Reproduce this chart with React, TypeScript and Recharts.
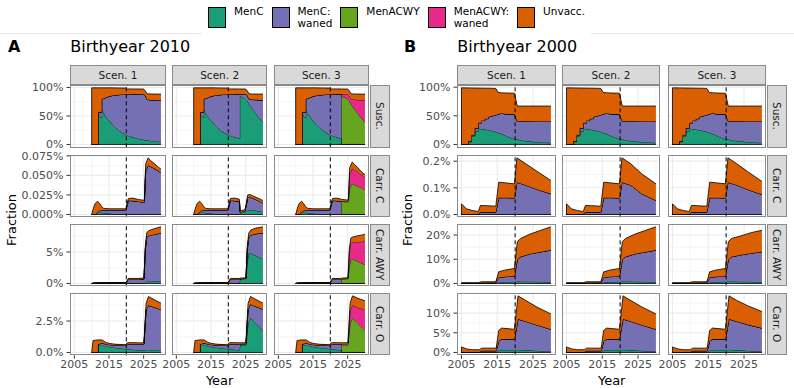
import React from 'react';
import { AreaChart, Area, XAxis, YAxis, CartesianGrid, ReferenceLine } from 'recharts';

const SCENARIOS = ['Scen. 1', 'Scen. 2', 'Scen. 3'];
const OUTCOMES = ['Susc.', 'Carr. C', 'Carr. AWY', 'Carr. O'];
const SERIES_KEYS = ['menc', 'mencWaned', 'acwy', 'acwyWaned', 'unvacc'] as const;
const SERIES_LABELS = ['MenC', 'MenC:\nwaned', 'MenACWY', 'MenACWY:\nwaned', 'Unvacc.'];
const COLORS: Record<string, string> = {
  menc: '#1B9E77',
  mencWaned: '#7570B3',
  acwy: '#66A61E',
  acwyWaned: '#E7298A',
  unvacc: '#D95F02',
};

const X_TICKS = [2005, 2015, 2025];
const X_MINOR = [2010, 2020, 2030];
const SWITCH_YEAR = 2020;

type Series = {
  menc?: number[];
  mencWaned?: number[];
  acwy?: number[];
  acwyWaned?: number[];
  unvacc?: number[];
};

// ---------- Birthyear 2010 (values in %) ----------
const aSuscYears = [2010, 2010, 2011.9, 2011.9, 2012.4, 2012.9, 2012.9, 2014, 2015, 2016, 2017, 2018, 2019, 2020, 2020.3, 2021, 2022, 2023.3, 2023.3, 2024, 2025, 2025.5, 2026, 2027, 2028, 2029, 2030];
const aSusc1: Series = {
  menc: [0, 0, 0, 57, 49, 47, 61, 50, 42, 35, 29, 24, 20, 17, 16.3, 14.5, 12.5, 10.7, 10.7, 9.5, 8.3, 7.8, 7.3, 6.5, 5.8, 5.2, 4.7],
  mencWaned: [0, 0, 0, 0, 8, 10, 19, 32, 42.5, 51, 58, 63.5, 68, 71, 71.9, 73.8, 76, 78, 78, 79.3, 80.5, 78.2, 71.7, 71.8, 72.2, 72.6, 72.9],
  unvacc: [0, 99.5, 99.5, 42.5, 42.5, 42.5, 19.5, 17.5, 15, 13.5, 12.4, 11.8, 11.2, 11.2, 9.4, 9.3, 9.1, 8.8, 8.8, 8.7, 8.6, 8, 10, 10.4, 10.6, 10.7, 10.9],
};
const aSusc2: Series = {
  menc: [0, 0, 0, 57, 49, 47, 61, 50, 42, 35, 29, 24, 20, 17, 16.3, 14.5, 12.5, 10.7, 85, 83, 80, 77, 71, 62, 54, 46, 39],
  mencWaned: [0, 0, 0, 0, 8, 10, 19, 32, 42.5, 51, 58, 63.5, 68, 71, 71.9, 73.8, 76, 78, 3.7, 5.8, 8.8, 9, 8.5, 17, 24.5, 32, 38.6],
  unvacc: [0, 99.5, 99.5, 42.5, 42.5, 42.5, 19.5, 17.5, 15, 13.5, 12.4, 11.8, 11.2, 11.2, 9.4, 9.3, 9.1, 8.8, 8.8, 8.7, 8.6, 8, 9.5, 9.7, 10.1, 10.5, 10.9],
};
const aSusc3: Series = {
  menc: [0, 0, 0, 57, 49, 47, 61, 50, 42, 35, 29, 24, 20, 17, 16.3, 14.5, 12.5, 10.7, 0, 0, 0, 0, 0, 0, 0, 0, 0],
  mencWaned: [0, 0, 0, 0, 8, 10, 19, 32, 42.5, 51, 58, 63.5, 68, 71, 71.9, 73.8, 76, 78, 0, 0, 0, 0, 0, 0, 0, 0, 0],
  acwy: [0, 0, 0, 0, 0, 0, 0, 0, 0, 0, 0, 0, 0, 0, 0, 0, 0, 0, 85, 83, 80, 77, 71, 62, 54, 46, 39],
  acwyWaned: [0, 0, 0, 0, 0, 0, 0, 0, 0, 0, 0, 0, 0, 0, 0, 0, 0, 0, 3.7, 5.8, 8.8, 9, 8.5, 17, 24.5, 32, 38.6],
  unvacc: [0, 99.5, 99.5, 42.5, 42.5, 42.5, 19.5, 17.5, 15, 13.5, 12.4, 11.8, 11.2, 11.2, 9.4, 9.3, 9.1, 8.8, 8.8, 8.7, 8.6, 8, 9.5, 9.7, 10.1, 10.5, 10.9],
};

const aCarrCYears = [2010, 2010.5, 2011, 2011.7, 2012.3, 2012.9, 2013.5, 2015, 2017, 2019.9, 2020.6, 2021.8, 2023.2, 2023.4, 2024.8, 2025.2, 2025.6, 2026.3, 2027, 2028, 2029, 2030];
const aCarrC1: Series = {
  menc: [0, 0, 0, 0.002, 0.003, 0.0025, 0.002, 0.0012, 0.0006, 0.0003, 0.0003, 0.0003, 0.0003, 0.0003, 0.0003, 0.0004, 0.0007, 0.0008, 0.0008, 0.0007, 0.0007, 0.0006],
  mencWaned: [0, 0, 0, 0.001, 0.002, 0.003, 0.0038, 0.0046, 0.0052, 0.0055, 0.0177, 0.0172, 0.0165, 0.0164, 0.0155, 0.0153, 0.0553, 0.0622, 0.0607, 0.0583, 0.0558, 0.0529],
  unvacc: [0, 0.008, 0.014, 0.014, 0.009, 0.0045, 0.002, 0.0015, 0.0015, 0.0015, 0.0025, 0.0035, 0.0027, 0.0026, 0.0025, 0.0023, 0.009, 0.0095, 0.0075, 0.0065, 0.005, 0.0045],
};
const aCarrC2: Series = {
  menc: [0, 0, 0, 0.002, 0.003, 0.0025, 0.002, 0.0012, 0.0006, 0.0003, 0.0003, 0.0003, 0.0003, 0.002, 0.003, 0.004, 0.0055, 0.0058, 0.0055, 0.005, 0.004, 0.0035],
  mencWaned: [0, 0, 0, 0.001, 0.002, 0.003, 0.0038, 0.0046, 0.0052, 0.0055, 0.0177, 0.0172, 0.0165, 0.001, 0.0015, 0.008, 0.016, 0.0164, 0.0155, 0.014, 0.013, 0.0113],
  unvacc: [0, 0.008, 0.014, 0.014, 0.009, 0.0045, 0.002, 0.0015, 0.0015, 0.0015, 0.0025, 0.0035, 0.0027, 0.0015, 0.0015, 0.0025, 0.0035, 0.0033, 0.003, 0.003, 0.003, 0.003],
};
const aCarrC3: Series = {
  menc: [0, 0, 0, 0.002, 0.003, 0.0025, 0.002, 0.0012, 0.0006, 0.0003, 0.0003, 0.0003, 0.0003, 0, 0, 0, 0, 0, 0, 0, 0, 0],
  mencWaned: [0, 0, 0, 0.001, 0.002, 0.003, 0.0038, 0.0046, 0.0052, 0.0055, 0.0177, 0.0172, 0.0165, 0, 0, 0, 0, 0, 0, 0, 0, 0],
  acwy: [0, 0, 0, 0, 0, 0, 0, 0, 0, 0, 0, 0, 0, 0.0165, 0.016, 0.0165, 0.034, 0.0394, 0.038, 0.036, 0.034, 0.0317],
  acwyWaned: [0, 0, 0, 0, 0, 0, 0, 0, 0, 0, 0, 0, 0, 0.0003, 0.0005, 0.001, 0.018, 0.0193, 0.019, 0.0185, 0.017, 0.0163],
  unvacc: [0, 0.008, 0.014, 0.014, 0.009, 0.0045, 0.002, 0.0015, 0.0015, 0.0015, 0.0025, 0.0035, 0.0027, 0.0025, 0.002, 0.0015, 0.008, 0.0083, 0.007, 0.005, 0.0035, 0.003],
};

const aCarrAwyYears = [2010, 2010.3, 2012, 2015, 2019.9, 2020.6, 2023.2, 2023.4, 2025.1, 2025.5, 2025.9, 2026.5, 2028, 2030];
const aCarrAwy1: Series = {
  menc: [0, 0, 0.03, 0.02, 0.01, 0.02, 0.03, 0.03, 0.05, 0.2, 0.3, 0.33, 0.35, 0.35],
  mencWaned: [0, 0, 0.05, 0.08, 0.09, 0.63, 0.62, 0.62, 0.65, 5.3, 7.1, 7.27, 7.45, 7.65],
  unvacc: [0, 0.1, 0.07, 0.05, 0.05, 0.15, 0.15, 0.15, 0.15, 0.5, 0.7, 0.8, 0.9, 1.0],
};
const aCarrAwy2: Series = {
  menc: [0, 0, 0.03, 0.02, 0.01, 0.02, 0.03, 0.7, 0.75, 3.5, 4.9, 4.8, 4.4, 3.9],
  mencWaned: [0, 0, 0.05, 0.08, 0.09, 0.63, 0.62, 0.05, 0.05, 2.0, 2.4, 2.9, 3.5, 4.1],
  unvacc: [0, 0.1, 0.07, 0.05, 0.05, 0.15, 0.15, 0.1, 0.1, 0.5, 0.7, 0.8, 0.9, 1.0],
};
const aCarrAwy3: Series = {
  menc: [0, 0, 0.03, 0.02, 0.01, 0.02, 0.03, 0, 0, 0, 0, 0, 0, 0],
  mencWaned: [0, 0, 0.05, 0.08, 0.09, 0.63, 0.62, 0, 0, 0, 0, 0, 0, 0],
  acwy: [0, 0, 0, 0, 0, 0, 0, 0.7, 0.75, 2.8, 3.8, 3.9, 3.5, 3.0],
  acwyWaned: [0, 0, 0, 0, 0, 0, 0, 0.05, 0.05, 2.2, 2.6, 2.7, 3.1, 3.7],
  unvacc: [0, 0.1, 0.07, 0.05, 0.05, 0.15, 0.15, 0.1, 0.1, 0.5, 0.8, 0.8, 1.0, 1.1],
};

const aCarrOYears = [2010, 2010.4, 2011.8, 2011.8, 2013, 2014, 2015, 2017, 2019.8, 2020.3, 2022, 2023.2, 2023.4, 2025.1, 2025.7, 2026.4, 2028, 2030];
const aCarrO1: Series = {
  menc: [0, 0, 0, 0.65, 0.6, 0.52, 0.46, 0.38, 0.28, 0.27, 0.22, 0.2, 0.2, 0.17, 0.22, 0.22, 0.2, 0.18],
  mencWaned: [0, 0, 0, 0, 0.15, 0.16, 0.16, 0.2, 0.27, 0.41, 0.46, 0.48, 0.48, 0.51, 3.18, 3.53, 3.4, 3.24],
  unvacc: [0, 0.95, 1.0, 0.35, 0.25, 0.14, 0.1, 0.07, 0.07, 0.1, 0.1, 0.09, 0.09, 0.08, 0.5, 0.7, 0.6, 0.5],
};
const aCarrO2: Series = {
  menc: [0, 0, 0, 0.65, 0.6, 0.52, 0.46, 0.38, 0.28, 0.27, 0.22, 0.2, 0.6, 0.6, 2.3, 2.77, 2.3, 1.7],
  mencWaned: [0, 0, 0, 0, 0.15, 0.16, 0.16, 0.2, 0.27, 0.41, 0.46, 0.48, 0.08, 0.09, 1.1, 1.07, 1.35, 1.74],
  unvacc: [0, 0.95, 1.0, 0.35, 0.25, 0.14, 0.1, 0.07, 0.07, 0.1, 0.1, 0.09, 0.09, 0.08, 0.5, 0.61, 0.55, 0.48],
};
const aCarrO3: Series = {
  menc: [0, 0, 0, 0.65, 0.6, 0.52, 0.46, 0.38, 0.28, 0.27, 0.22, 0.2, 0, 0, 0, 0, 0, 0],
  mencWaned: [0, 0, 0, 0, 0.15, 0.16, 0.16, 0.2, 0.27, 0.41, 0.46, 0.48, 0, 0, 0, 0, 0, 0],
  acwy: [0, 0, 0, 0, 0, 0, 0, 0, 0, 0, 0, 0, 0.6, 0.6, 2.3, 2.77, 2.3, 1.77],
  acwyWaned: [0, 0, 0, 0, 0, 0, 0, 0, 0, 0, 0, 0, 0.08, 0.09, 1.0, 0.98, 1.25, 1.63],
  unvacc: [0, 0.95, 1.0, 0.35, 0.25, 0.14, 0.1, 0.07, 0.07, 0.1, 0.1, 0.09, 0.09, 0.08, 0.6, 0.75, 0.75, 0.7],
};

// ---------- Birthyear 2000 (values in %) ----------
const bSuscYears = [2005, 2005, 2006.9, 2006.9, 2007.8, 2007.8, 2008.7, 2008.7, 2009.7, 2009.7, 2010.6, 2010.6, 2011.5, 2011.5, 2012.5, 2012.5, 2013.4, 2014.3, 2014.6, 2015.3, 2016.2, 2017, 2018, 2019.8, 2020.6, 2022, 2024, 2026, 2028, 2030];
const bSusc: Series = {
  menc: [0, 0, 0, 5, 4.5, 15, 14, 24, 23, 28, 27, 27.5, 26, 26.5, 25, 25.5, 24, 23, 22, 20.5, 18.5, 16.5, 13.5, 9.5, 9, 7, 5.5, 4.3, 3.5, 3],
  mencWaned: [0, 0, 0, 1, 1, 2, 2.5, 5, 5.5, 10, 10.5, 14.5, 15.5, 18.5, 20, 22.5, 25.5, 28, 29.5, 32.5, 36, 37, 39.5, 43.5, 31.6, 33.5, 34.8, 35.9, 36.6, 37],
  unvacc: [0, 98.8, 98.7, 92.7, 93.1, 81.6, 82, 69.5, 69.9, 60.4, 60.8, 56.3, 56.7, 53.2, 53.1, 50.1, 48.5, 46.8, 46.1, 37.6, 35.7, 36.5, 36.7, 36.4, 26.4, 26.5, 26.7, 26.8, 26.9, 27],
};

const bCarrCYears = [2005, 2005, 2006.4, 2008, 2009.7, 2010.3, 2012, 2014.6, 2015.4, 2017, 2019.8, 2020.5, 2023, 2026, 2030];
const bCarrC1: Series = {
  menc: [0, 0, 0, 0, 0, 0.001, 0.001, 0.001, 0.002, 0.002, 0.002, 0.002, 0.002, 0.002, 0.002],
  mencWaned: [0, 0.001, 0.001, 0.001, 0.002, 0.008, 0.008, 0.008, 0.0605, 0.061, 0.06, 0.119, 0.108, 0.093, 0.0755],
  unvacc: [0, 0.039, 0.02, 0.014, 0.009, 0.025, 0.024, 0.022, 0.0585, 0.056, 0.053, 0.0915, 0.08, 0.068, 0.05],
};
const bCarrC2: Series = {
  menc: [0, 0, 0, 0, 0, 0.001, 0.001, 0.001, 0.002, 0.002, 0.002, 0.002, 0.002, 0.002, 0.002],
  mencWaned: [0, 0.001, 0.001, 0.001, 0.002, 0.008, 0.008, 0.008, 0.0605, 0.061, 0.06, 0.119, 0.108, 0.076, 0.0505],
  unvacc: [0, 0.039, 0.02, 0.014, 0.009, 0.025, 0.024, 0.022, 0.0585, 0.056, 0.053, 0.0915, 0.08, 0.075, 0.0625],
};
const bCarrC3: Series = {
  menc: [0, 0, 0, 0, 0, 0.001, 0.001, 0.001, 0.002, 0.002, 0.002, 0.002, 0.002, 0.002, 0.002],
  mencWaned: [0, 0.001, 0.001, 0.001, 0.002, 0.008, 0.008, 0.008, 0.0605, 0.061, 0.06, 0.119, 0.108, 0.092, 0.073],
  unvacc: [0, 0.039, 0.02, 0.014, 0.009, 0.025, 0.024, 0.022, 0.0585, 0.056, 0.053, 0.0915, 0.08, 0.067, 0.049],
};

const bCarrAwyYears = [2005, 2005, 2009.7, 2010.5, 2014.6, 2015.4, 2017, 2019.8, 2020.6, 2021.5, 2024, 2027, 2030];
const bCarrAwy1: Series = {
  menc: [0, 0, 0, 0.05, 0.05, 0.5, 0.6, 0.7, 0.8, 0.8, 0.75, 0.7, 0.6],
  mencWaned: [0, 0.05, 0.05, 0.25, 0.3, 2.0, 2.2, 2.3, 9.1, 10.2, 11.45, 12.3, 13.2],
  unvacc: [0, 0.25, 0.25, 0.4, 0.35, 2.3, 2.7, 3.2, 7.3, 7.6, 8.1, 8.9, 9.6],
};
const bCarrAwy3: Series = {
  menc: [0, 0, 0, 0.05, 0.05, 0.5, 0.6, 0.7, 0.8, 0.8, 0.75, 0.7, 0.6],
  mencWaned: [0, 0.05, 0.05, 0.25, 0.3, 2.0, 2.2, 2.3, 9.1, 10.2, 11.05, 11.8, 12.5],
  unvacc: [0, 0.25, 0.25, 0.4, 0.35, 2.3, 2.7, 3.2, 7.3, 7.6, 7.8, 8.5, 8.9],
};

const bCarrOYears = [2005, 2005, 2006.5, 2008, 2010, 2010.6, 2014.7, 2015.4, 2016.2, 2019.8, 2020.8, 2023, 2026, 2030];
const bCarrO1: Series = {
  menc: [0, 0, 0, 0, 0, 0.05, 0.05, 0.5, 0.65, 0.65, 0.7, 0.6, 0.45, 0.25],
  mencWaned: [0, 0.05, 0.05, 0.05, 0.1, 0.37, 0.37, 2.4, 2.75, 2.75, 7.8, 7.3, 6.55, 5.65],
  unvacc: [0, 1.35, 0.85, 0.65, 0.6, 0.68, 0.68, 2.7, 2.8, 2.5, 5.9, 5.3, 4.6, 3.9],
};
const bCarrO3: Series = {
  menc: [0, 0, 0, 0, 0, 0.05, 0.05, 0.5, 0.65, 0.65, 0.7, 0.6, 0.45, 0.25],
  mencWaned: [0, 0.05, 0.05, 0.05, 0.1, 0.37, 0.37, 2.4, 2.75, 2.75, 7.8, 7.3, 6.65, 5.95],
  unvacc: [0, 1.35, 0.85, 0.65, 0.6, 0.68, 0.68, 2.7, 2.8, 2.5, 5.9, 5.3, 4.8, 4.2],
};

// ---------- facet rows: one per outcome, free y scale ----------
interface FacetRow {
  label: string;
  years: number[];
  scen: Series[];
  domain: [number, number];
  ticks: number[];
  minor: number[];
  fmt: (v: number) => string;
}

const pct0 = (v: number) => `${v}%`;
const pct1 = (v: number) => `${v.toFixed(1)}%`;
const pct3 = (v: number) => `${v.toFixed(3)}%`;

const rowsA: FacetRow[] = [
  { label: OUTCOMES[0], years: aSuscYears, scen: [aSusc1, aSusc2, aSusc3], domain: [-4.975, 104.475], ticks: [0, 50, 100], minor: [25, 75], fmt: pct0 },
  { label: OUTCOMES[1], years: aCarrCYears, scen: [aCarrC1, aCarrC2, aCarrC3], domain: [-0.0036, 0.0761], ticks: [0, 0.025, 0.05, 0.075], minor: [0.0125, 0.0375, 0.0625], fmt: pct3 },
  { label: OUTCOMES[2], years: aCarrAwyYears, scen: [aCarrAwy1, aCarrAwy2, aCarrAwy3], domain: [-0.45, 9.45], ticks: [0, 5], minor: [2.5, 7.5], fmt: pct0 },
  { label: OUTCOMES[3], years: aCarrOYears, scen: [aCarrO1, aCarrO2, aCarrO3], domain: [-0.225, 4.725], ticks: [0, 2.5], minor: [1.25, 3.75], fmt: pct1 },
];

const rowsB: FacetRow[] = [
  { label: OUTCOMES[0], years: bSuscYears, scen: [bSusc, bSusc, bSusc], domain: [-4.94, 103.74], ticks: [0, 50, 100], minor: [25, 75], fmt: pct0 },
  { label: OUTCOMES[1], years: bCarrCYears, scen: [bCarrC1, bCarrC2, bCarrC3], domain: [-0.0106, 0.2231], ticks: [0, 0.1, 0.2], minor: [0.05, 0.15], fmt: pct1 },
  { label: OUTCOMES[2], years: bCarrAwyYears, scen: [bCarrAwy1, bCarrAwy1, bCarrAwy3], domain: [-1.17, 24.57], ticks: [0, 10, 20], minor: [5, 15], fmt: pct0 },
  { label: OUTCOMES[3], years: bCarrOYears, scen: [bCarrO1, bCarrO1, bCarrO3], domain: [-0.72, 15.12], ticks: [0, 5, 10], minor: [2.5, 7.5, 12.5], fmt: pct0 },
];

// ---------- layout ----------
const FONT = '"DejaVu Sans", Verdana, sans-serif';
const X_DOMAIN: [number, number] = [2003.75, 2031.25];
const PANEL_TOPS = [85.3, 154.6, 223.9, 293.2];
const PANEL_H = 62.3;
const STRIP_TOP = 64.5;
const STRIP_H = 20.5;
const Y_AXIS_W = 60;
const X_AXIS_H = 24;
const PAD = 8; // vertical room so tick labels at the panel edges are not clipped
const PAD_X = 16; // horizontal room for the year labels at the panel edges
const BORDER = '#8A8A8A';
const GRID = '#EBEBEB';
const TICK_TEXT = { fill: '#4D4D4D', fontSize: 11, fontFamily: FONT };

interface FacetProps {
  row: FacetRow;
  series: Series;
  left: number;
  top: number;
  width: number;
  showY: boolean;
  showX: boolean;
}

function Facet({ row, series, left, top, width, showY, showX }: FacetProps) {
  const data = row.years.map((year, i) => ({
    year,
    menc: series.menc?.[i] ?? 0,
    mencWaned: series.mencWaned?.[i] ?? 0,
    acwy: series.acwy?.[i] ?? 0,
    acwyWaned: series.acwyWaned?.[i] ?? 0,
    unvacc: series.unvacc?.[i] ?? 0,
  }));
  const first = row.years[0];
  const last = row.years[row.years.length - 1];
  const offX = showY ? Y_AXIS_W : PAD_X;

  return (
    <div style={{ position: 'absolute', left: left - offX, top: top - PAD }}>
      <AreaChart
        width={width + offX + PAD_X}
        height={PANEL_H + 2 * PAD + (showX ? X_AXIS_H : 0)}
        data={data}
        margin={{ top: PAD, right: PAD_X, bottom: PAD, left: showY ? 0 : PAD_X }}
      >
        <CartesianGrid stroke={GRID} strokeWidth={0.5} horizontalValues={row.minor} verticalValues={X_MINOR} />
        <CartesianGrid stroke={GRID} strokeWidth={1.1} horizontalValues={row.ticks} verticalValues={X_TICKS} />
        <XAxis
          dataKey="year"
          type="number"
          domain={X_DOMAIN}
          allowDataOverflow
          ticks={X_TICKS}
          interval={0}
          hide={!showX}
          height={X_AXIS_H}
          axisLine={false}
          tickLine={{ stroke: '#333333' }}
          tickSize={3.5}
          tickMargin={1.5}
          tick={TICK_TEXT}
        />
        <YAxis
          type="number"
          domain={row.domain}
          allowDataOverflow
          ticks={row.ticks}
          interval={0}
          hide={!showY}
          width={Y_AXIS_W}
          axisLine={false}
          tickLine={{ stroke: '#333333' }}
          tickSize={3.5}
          tickMargin={3}
          tick={TICK_TEXT}
          tickFormatter={row.fmt}
        />
        {SERIES_KEYS.map((key) => (
          <Area
            key={key}
            type="linear"
            dataKey={key}
            stackId="fractions"
            stroke="#000000"
            strokeWidth={0.8}
            fill={COLORS[key]}
            fillOpacity={1}
            dot={false}
            activeDot={false}
            isAnimationActive={false}
          />
        ))}
        <ReferenceLine segment={[{ x: first, y: 0 }, { x: last, y: 0 }]} stroke="#000000" strokeWidth={0.8} />
        <ReferenceLine x={SWITCH_YEAR} stroke="#000000" strokeWidth={1} strokeDasharray="4 3" />
      </AreaChart>
      <div
        style={{
          position: 'absolute',
          left: offX,
          top: PAD,
          width,
          height: PANEL_H,
          border: `1px solid ${BORDER}`,
          boxSizing: 'border-box',
          pointerEvents: 'none',
        }}
      />
    </div>
  );
}

interface BlockProps {
  letter: string;
  title: string;
  rows: FacetRow[];
  lefts: number[];
  width: number;
  letterX: number;
  yTitleX: number;
}

function Block({ letter, title, rows, lefts, width, letterX, yTitleX }: BlockProps) {
  const right = lefts[2] + width;
  const centre = (lefts[0] + right) / 2;
  const midY = (PANEL_TOPS[0] + PANEL_TOPS[3] + PANEL_H) / 2;
  return (
    <>
      <div style={{ position: 'absolute', left: letterX, top: 37, height: 20, lineHeight: '20px', fontSize: 16, fontWeight: 'bold' }}>
        {letter}
      </div>
      <div style={{ position: 'absolute', left: lefts[0], top: 37, height: 20, lineHeight: '20px', fontSize: 16 }}>{title}</div>

      {SCENARIOS.map((s, c) => (
        <div
          key={s}
          style={{
            position: 'absolute',
            left: lefts[c],
            top: STRIP_TOP,
            width,
            height: STRIP_H,
            background: '#D9D9D9',
            border: `1px solid ${BORDER}`,
            boxSizing: 'border-box',
            display: 'flex',
            alignItems: 'center',
            justifyContent: 'center',
            fontSize: 10.5,
            color: '#1A1A1A',
          }}
        >
          {s}
        </div>
      ))}

      {rows.map((row, r) => (
        <React.Fragment key={row.label}>
          {row.scen.map((series, c) => (
            <Facet
              key={c}
              row={row}
              series={series}
              left={lefts[c]}
              top={PANEL_TOPS[r]}
              width={width}
              showY={c === 0}
              showX={r === rows.length - 1}
            />
          ))}
          <div
            style={{
              position: 'absolute',
              left: right + 0.8,
              top: PANEL_TOPS[r],
              width: 20,
              height: PANEL_H,
              background: '#D9D9D9',
              border: `1px solid ${BORDER}`,
              boxSizing: 'border-box',
              display: 'flex',
              alignItems: 'center',
              justifyContent: 'center',
              fontSize: 10.5,
              color: '#1A1A1A',
            }}
          >
            <span style={{ writingMode: 'vertical-rl', whiteSpace: 'nowrap' }}>{row.label}</span>
          </div>
        </React.Fragment>
      ))}

      <div
        style={{
          position: 'absolute',
          left: yTitleX - 50,
          top: midY - 10,
          width: 100,
          height: 20,
          lineHeight: '20px',
          textAlign: 'center',
          fontSize: 13,
          transform: 'rotate(-90deg)',
        }}
      >
        Fraction
      </div>
      <div
        style={{
          position: 'absolute',
          left: centre - 50,
          top: 371,
          width: 100,
          height: 20,
          lineHeight: '20px',
          textAlign: 'center',
          fontSize: 13,
        }}
      >
        Year
      </div>
    </>
  );
}

function Legend() {
  return (
    <div style={{ position: 'absolute', left: 208, top: 7.3, display: 'flex', alignItems: 'flex-start' }}>
      {SERIES_KEYS.map((key, i) => (
        <div key={key} style={{ display: 'flex', alignItems: 'flex-start', marginRight: 8 }}>
          <div
            style={{
              width: 18,
              height: 21,
              background: COLORS[key],
              border: '1px solid #000000',
              boxSizing: 'border-box',
              marginRight: 8,
            }}
          />
          <div style={{ fontSize: 10.5, lineHeight: '11.7px', whiteSpace: 'pre', color: '#000000', marginTop: -1 }}>
            {SERIES_LABELS[i]}
          </div>
        </div>
      ))}
    </div>
  );
}

export default function App() {
  return (
    <div
      style={{
        position: 'absolute',
        left: 0,
        top: 0,
        width: 794,
        height: 388,
        background: '#FFFFFF',
        fontFamily: FONT,
        overflow: 'hidden',
      }}
    >
      <div style={{ position: 'absolute', left: 0, top: 33, width: 202, height: 1, background: '#E6E6E6' }} />
      <div style={{ position: 'absolute', left: 591, top: 33, width: 203, height: 1, background: '#E6E6E6' }} />
      <Legend />
      <Block
        letter="A"
        title="Birthyear 2010"
        rows={rowsA}
        lefts={[70.3, 172, 273.7]}
        width={95.3}
        letterX={8}
        yTitleX={12}
      />
      <Block
        letter="B"
        title="Birthyear 2000"
        rows={rowsB}
        lefts={[457.3, 561.7, 667.7]}
        width={98.4}
        letterX={404}
        yTitleX={408}
      />
    </div>
  );
}
